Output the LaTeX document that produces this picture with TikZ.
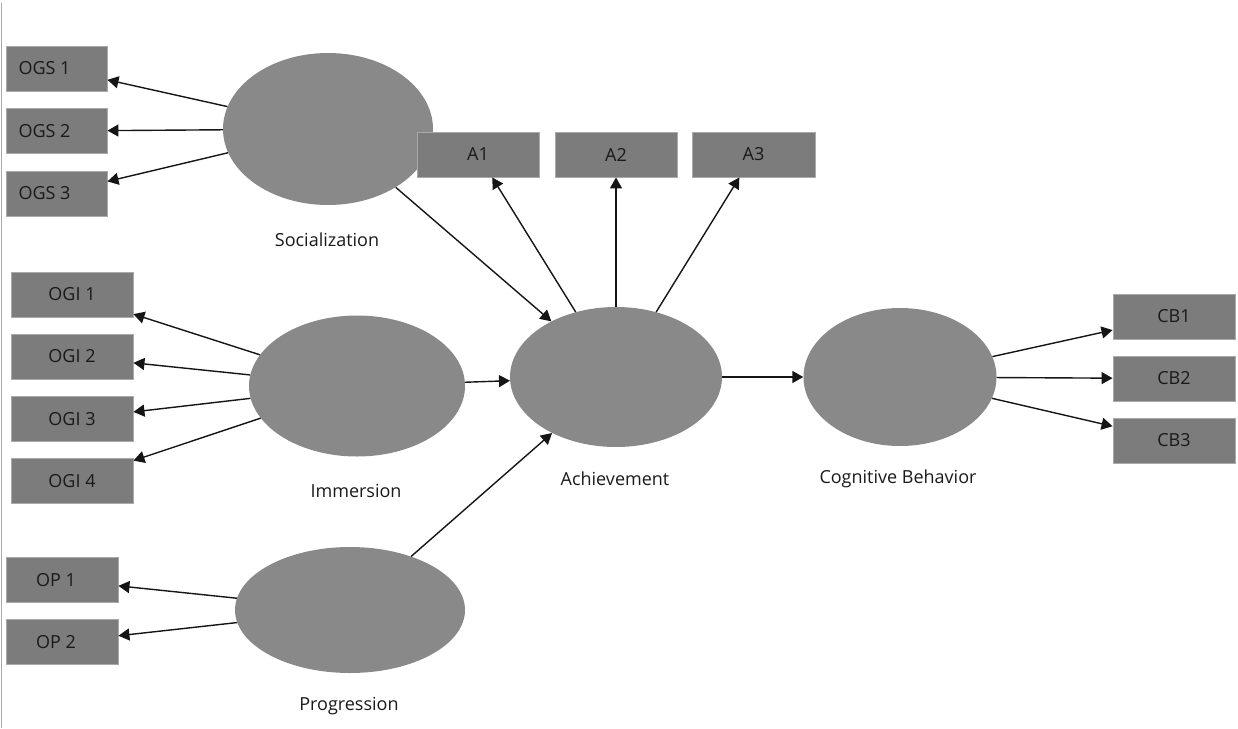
\documentclass[tikz,border=0pt]{standalone}
\usepackage{fontspec}
\setmainfont{Open Sans}
\usetikzlibrary{shapes.geometric,arrows.meta}
\definecolor{ellgray}{HTML}{898989}
\definecolor{boxgray}{HTML}{7C7C7C}
\definecolor{boxedge}{HTML}{A9A9A9}
\definecolor{txtdark}{HTML}{1A1A1A}
\definecolor{linedark}{HTML}{151515}
\tikzset{
  latent/.style={ellipse, fill=ellgray, draw=none, inner sep=0pt},
  indic/.style={rectangle, fill=boxgray, draw=boxedge, line width=0.9pt, inner sep=0pt,
                minimum height=45pt, text=txtdark, font=\fontsize{18}{20}\selectfont},
  ltext/.style={text=txtdark, font=\fontsize{18}{20}\selectfont, inner sep=0pt},
  arr/.style={draw=linedark, line width=1.4pt, -{Triangle[length=11pt,width=12pt]}}
}
\begin{document}
\begin{tikzpicture}[x=1pt,y=-1pt]
\useasboundingbox (0,0) rectangle (1238,728);
\draw[boxedge, line width=1.3pt] (1.5,3) -- (1.5,728);

% latent variables
\node[latent, minimum width=210pt, minimum height=152pt] (soc) at (328,129) {};
\node[latent, minimum width=216pt, minimum height=141pt] (imm) at (357,386) {};
\node[latent, minimum width=230pt, minimum height=126pt] (prog) at (350,610) {};
\node[latent, minimum width=212pt, minimum height=140pt] (ach) at (616,377) {};
\node[latent, minimum width=193pt, minimum height=138pt] (cog) at (900,377) {};

% labels
\node[ltext] (socl) at (327,240) {Socialization};
\node[ltext] (imml) at (356,491) {Immersion};
\node[ltext] (progl) at (349,706) {Progression};
\node[ltext] (achl) at (615,479) {Achievement};
\node[ltext] (cogl) at (898,479) {Cognitive Behavior};

% indicators
\node[indic, minimum width=101pt] (ogs1) at (56.5,68.5) {OGS 1\kern24pt};
\node[indic, minimum width=101pt] (ogs2) at (56.5,131) {OGS 2\kern24pt};
\node[indic, minimum width=101pt] (ogs3) at (56.5,193.5) {OGS 3\kern24pt};

\node[indic, minimum width=122pt] (ogi1) at (72,294.5) {OGI 1};
\node[indic, minimum width=122pt] (ogi2) at (72,356.5) {OGI 2};
\node[indic, minimum width=122pt] (ogi3) at (72,419) {OGI 3};
\node[indic, minimum width=122pt] (ogi4) at (72,481) {OGI 4};

\node[indic, minimum width=112pt] (op1) at (62,580) {OP 1\kern12pt};
\node[indic, minimum width=112pt] (op2) at (62,642) {OP 2\kern12pt};

\node[indic, minimum width=122pt] (a1) at (478,154.5) {A1};
\node[indic, minimum width=122pt] (a2) at (616,154.5) {A2};
\node[indic, minimum width=123pt] (a3) at (753.5,154.5) {A3};

\node[indic, minimum width=122pt] (cb1) at (1174,316.5) {CB1};
\node[indic, minimum width=122pt] (cb2) at (1174,378.5) {CB2};
\node[indic, minimum width=122pt] (cb3) at (1174,440.5) {CB3};

% connectors
\foreach \t in {ogs1,ogs2,ogs3} \draw[arr] (soc) -- (\t);
\foreach \t in {ogi1,ogi2,ogi3,ogi4} \draw[arr] (imm) -- (\t);
\foreach \t in {op1,op2} \draw[arr] (prog) -- (\t);
\foreach \t in {a1,a2,a3} \draw[arr] (ach) -- (\t);
\foreach \t in {cb1,cb2,cb3} \draw[arr] (cog) -- (\t);
\draw[arr] (soc) -- (ach);
\draw[arr] (imm) -- (ach);
\draw[arr] (prog) -- (ach);
\draw[arr] (ach) -- (cog);
\end{tikzpicture}
\end{document}
